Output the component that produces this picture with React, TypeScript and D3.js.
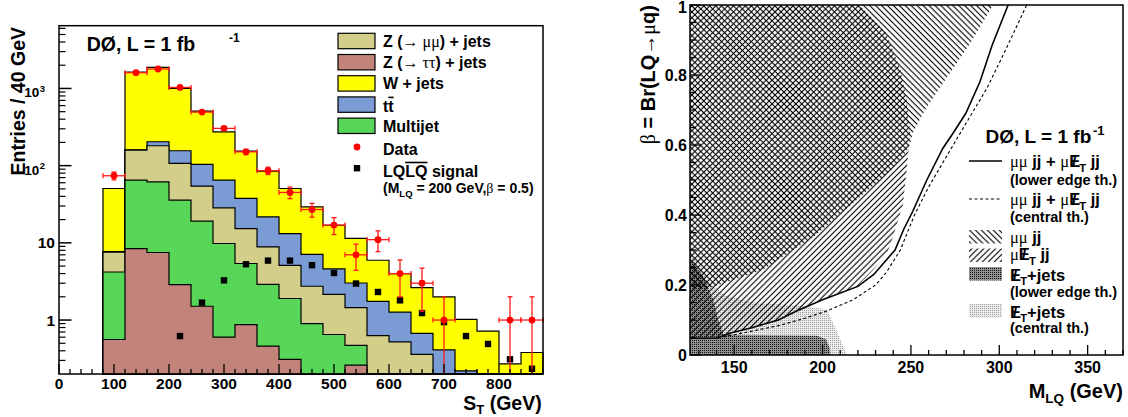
import React from 'react';
import * as d3 from 'd3';

// ---------------- Left panel data (S_T distribution) ----------------
const stEdges = [80, 120, 160, 200, 240, 280, 320, 360, 400, 440, 480, 520, 560, 600, 640, 680, 720, 760, 800, 840, 880];
const zttJets = [0.56, 8.4, 7.5, 2.88, 1.51, 0.6, 0.87, 0.46, 0.31, 0, 0, 0.26, 0, 0, 0, 0, 0, 0, 0, 0];
const multijet = [3.63, 56.5, 54.2, 32.8, 17.6, 9.2, 4.53, 2.44, 1.59, 0.9, 0.65, 0.21, 0, 0, 0, 0, 0, 0, 0, 0];
const zmmJets = [3.41, 94.1, 119.3, 71.3, 35.1, 18.6, 9.9, 5.95, 3.2, 1.84, 1.5, 0.98, 0.63, 0.52, 0.36, 0, 0, 0, 0, 0];
const ttbar = [0.1, 1, 23, 49, 49.8, 36.5, 22.3, 12.85, 8.1, 4.36, 2.45, 1.57, 1.12, 0.75, 0.31, 0.41, 0.22, 0, 0, 0];
const wJets = [42.9, 1472, 1676, 846, 405, 209, 116.4, 63.1, 37.4, 22.1, 12.3, 8.38, 4.2, 2.73, 1.96, 1.58, 0.8, 0.72, 0.27, 0.38];
const dataCounts = [74, 1600, 1786, 1030, 494, 304, 151, 86, 45, 27, 17, 7, 11, 4, 3, 1, null, null, 1, 1];
const dataErrors = [8.6, 40, 42, 32, 22, 17.4, 12.3, 9.3, 7.7, 5.5, 4.2, 2.6, 3.3, 2, 1.7, 1, null, null, 1, 1];
const signalLQ = [null, null, null, 0.62, 1.68, 3.27, 5.28, 5.89, 5.89, 5.13, 4.07, 2.97, 2.31, 1.8, 1.23, 0.94, 0.62, 0.49, 0.31, 0.234];

const xTicksL = [0, 100, 200, 300, 400, 500, 600, 700, 800];
const yTicksL = [
  { v: 1, base: '1', sup: '' },
  { v: 10, base: '10', sup: '' },
  { v: 100, base: '10', sup: '2' },
  { v: 1000, base: '10', sup: '3' },
];

// ---------------- Right panel data (beta vs M_LQ) ----------------
const mumujjRegion: [number, number][] = [
  [125, 1], [296.5, 1], [283.5, 0.89], [268, 0.776], [258, 0.7], [251, 0.634], [249.5, 0.6], [246, 0.571],
  [239, 0.529], [217, 0.433], [195, 0.338], [166, 0.243], [144, 0.205], [135, 0.19], [125, 0.19],
];
const munujjRegion: [number, number][] = [
  [125, 1], [221, 1], [236, 0.92], [243.8, 0.82], [247.6, 0.73], [249.5, 0.634], [248.6, 0.58], [247.6, 0.53],
  [245.5, 0.43], [240, 0.34], [236.5, 0.29], [228.6, 0.243], [219.3, 0.195], [200, 0.158], [185, 0.125],
  [175, 0.1], [160, 0.078], [148, 0.063], [140, 0.052], [125, 0.052],
];
const metJetsLower: [number, number][] = [
  [125, 0], [204.5, 0], [204, 0.02], [202, 0.045], [197, 0.055], [150, 0.057], [143.9, 0.06], [141, 0.1],
  [138.2, 0.157], [132.5, 0.224], [126, 0.267], [125, 0.27],
];
const metJetsCentral: [number, number][] = [
  [125, 0], [213.7, 0], [208, 0.07], [202.4, 0.13], [190, 0.14], [160, 0.15], [145, 0.17], [135, 0.21], [125, 0.3],
];
const combinedLower: [number, number][] = [
  [125, 0.048], [140, 0.048], [148, 0.063], [160, 0.078], [175, 0.1], [185, 0.125], [200, 0.158], [220, 0.196],
  [229, 0.23], [241, 0.3], [246, 0.36], [251, 0.41], [259, 0.5], [268, 0.59], [274, 0.635], [281, 0.69],
  [289, 0.78], [296, 0.886], [305, 1],
];
const combinedCentral: [number, number][] = [
  [125, 0.048], [140, 0.048], [150, 0.058], [162, 0.07], [176, 0.085], [190, 0.105], [202, 0.125], [217, 0.157],
  [230, 0.2], [236, 0.235], [244, 0.3], [252, 0.4], [260, 0.48], [270, 0.566], [280, 0.652], [293, 0.762],
  [304, 0.876], [315.5, 1],
];
const xTicksR = [150, 200, 250, 300, 350];
const yTicksR = [0, 0.2, 0.4, 0.6, 0.8, 1];
const yTickLabelsR = ['0', '0.2', '0.4', '0.6', '0.8', '1'];

const colors = { ztt: '#c2837b', mj: '#57d657', zmm: '#d3cf8b', tt: '#7b9bd4', w: '#ffff00' };

const SANS = "'Liberation Sans', Arial, Helvetica, sans-serif";
const SERIF = "'Liberation Serif', 'DejaVu Serif', 'Times New Roman', serif";

const MET = (f: number) => (
  <>
    <tspan>E</tspan>
    <tspan dx={-0.5 * f}>/</tspan>
    <tspan dx={0.17 * f} dy={0.28 * f} fontSize={0.68 * f}>T</tspan>
  </>
);

export default function App() {
  // left scales
  const xL = d3.scaleLinear().domain([0, 880]).range([59, 543]);
  const yL = d3.scaleLog().domain([0.2, 6500]).range([374, 25.7]);
  const yc = (v: number) => yL(Math.max(v, 0.2));
  const yBot = 374;

  const keys = ['ztt', 'mj', 'zmm', 'tt', 'w'] as const;
  const rows = stEdges.slice(0, -1).map((lo, i) => ({
    lo, hi: stEdges[i + 1],
    ztt: zttJets[i], mj: multijet[i], zmm: zmmJets[i], tt: ttbar[i], w: wJets[i],
  }));
  const series = d3.stack<any>().keys(keys as any)(rows);
  const stepPath = (k: number) => {
    let p = `M${xL(stEdges[0])},${yBot}`;
    rows.forEach((r, i) => {
      const top = series[k][i][1];
      p += `L${xL(r.lo)},${yc(top)}L${xL(r.hi)},${yc(top)}`;
    });
    p += `L${xL(stEdges[stEdges.length - 1])},${yBot}Z`;
    return p;
  };

  const minorLogL: number[] = [];
  [0.1, 1, 10, 100, 1000].forEach((d) => {
    for (let k = 2; k <= 9; k++) {
      const v = d * k;
      if (v > 0.2 && v < 6500) minorLogL.push(v);
    }
  });
  const minorXL = d3.range(0, 881, 20);

  // right scales
  const xR = d3.scaleLinear().domain([125, 370]).range([690, 1123]);
  const yR = d3.scaleLinear().domain([0, 1]).range([355, 5]);
  const poly = (pts: [number, number][]) => pts.map((p) => `${xR(p[0])},${yR(p[1])}`).join(' ');
  const line = d3.line<[number, number]>().x((d) => xR(d[0])).y((d) => yR(d[1]));
  const minorXR = d3.range(130, 371, 10);
  const minorYR = d3.range(0, 1.0001, 0.05);

  const legendRowsY = [41, 62.2, 83.4, 104.6, 125.8, 147, 168.2];
  const legendBoxes = [
    { c: colors.zmm, y: legendRowsY[0] },
    { c: colors.ztt, y: legendRowsY[1] },
    { c: colors.w, y: legendRowsY[2] },
    { c: colors.tt, y: legendRowsY[3] },
    { c: colors.mj, y: legendRowsY[4] },
  ];

  const lf = 16;
  const rf = 16.5;

  return (
    <svg width={1128} height={417} style={{ position: 'absolute', left: 0, top: 0, background: '#fff' }}
      fontFamily={SANS} fontWeight="bold">
      <defs>
        <pattern id="hatchA" patternUnits="userSpaceOnUse" width="4.2" height="4.2" patternTransform="rotate(-45)">
          <rect x="1.5" y="0" width="1.1" height="4.2" fill="#000" />
        </pattern>
        <pattern id="hatchB" patternUnits="userSpaceOnUse" width="4.2" height="4.2" patternTransform="rotate(45)">
          <rect x="1.5" y="0" width="1.1" height="4.2" fill="#000" />
        </pattern>
        <pattern id="darkFill" patternUnits="userSpaceOnUse" width="2" height="2">
          <rect width="2" height="2" fill="#919191" />
          <rect width="1" height="1" fill="#111" />
        </pattern>
        <pattern id="lightFill" patternUnits="userSpaceOnUse" width="2" height="2">
          <rect width="2" height="2" fill="#ebebeb" />
          <rect width="1" height="1" fill="#a0a0a0" />
        </pattern>
        <clipPath id="clipR">
          <rect x={690} y={5} width={433} height={350} />
        </clipPath>
      </defs>

      {/* ================= LEFT PANEL ================= */}
      {[4, 3, 2, 1, 0].map((k) => (
        <path key={k} d={stepPath(k)} fill={(colors as any)[keys[k]]} stroke="#000" strokeWidth={1.2} />
      ))}

      {/* signal */}
      {signalLQ.map((v, i) => v == null ? null : (
        <rect key={'s' + i} x={xL((stEdges[i] + stEdges[i + 1]) / 2) - 3.2} y={yc(v) - 3.2} width={6.4} height={6.4} fill="#000" />
      ))}

      {/* data */}
      {dataCounts.map((v, i) => {
        if (v == null) return null;
        const e = dataErrors[i] as number;
        const cx = xL((stEdges[i] + stEdges[i + 1]) / 2);
        const cy = yc(v);
        const x0 = xL(stEdges[i]);
        const x1 = xL(stEdges[i + 1]);
        const yHi = yc(v + e);
        const yLo = yc(v - e);
        return (
          <g key={'d' + i} stroke="#ff1a1a" strokeWidth={1.3}>
            <line x1={x0} y1={cy} x2={x1} y2={cy} />
            <line x1={cx} y1={yHi} x2={cx} y2={yLo} />
            <line x1={cx - 2.5} y1={yHi} x2={cx + 2.5} y2={yHi} />
            {v - e > 0.2 && <line x1={cx - 2.5} y1={yLo} x2={cx + 2.5} y2={yLo} />}
            <line x1={x0} y1={cy - 2.5} x2={x0} y2={cy + 2.5} />
            <line x1={x1} y1={cy - 2.5} x2={x1} y2={cy + 2.5} />
            <circle cx={cx} cy={cy} r={3.4} fill="#ff0000" stroke="none" />
          </g>
        );
      })}

      {/* frame & axes */}
      <rect x={59} y={25.7} width={484} height={348.3} fill="none" stroke="#000" strokeWidth={1.5} />
      {yTicksL.map((t) => (
        <line key={'ym' + t.v} x1={59} x2={71.5} y1={yL(t.v)} y2={yL(t.v)} stroke="#000" strokeWidth={1.5} />
      ))}
      {minorLogL.map((v) => (
        <line key={'yn' + v} x1={59} x2={65.5} y1={yL(v)} y2={yL(v)} stroke="#000" strokeWidth={1.2} />
      ))}
      {minorXL.map((v) => (
        <line key={'xn' + v} x1={xL(v)} x2={xL(v)} y1={yBot} y2={v % 100 === 0 ? yBot - 10 : yBot - 5} stroke="#000" strokeWidth={1.3} />
      ))}
      {xTicksL.map((v) => (
        <text key={'xl' + v} x={xL(v)} y={389} textAnchor="middle" fontSize={15.5}>{v}</text>
      ))}
      {yTicksL.map((t) => t.sup ? (
        <text key={'yl' + t.v} x={45} y={yL(t.v) + 9} textAnchor="end" fontSize={13.5}>
          {t.base}
          <tspan dx={0.5} dy={-5.5} fontSize={9.5}>{t.sup}</tspan>
        </text>
      ) : (
        <text key={'yl' + t.v} x={55} y={yL(t.v) + 5.5} textAnchor="end" fontSize={15.5}>{t.base}</text>
      ))}
      <text transform="translate(25,27) rotate(-90)" textAnchor="end" fontSize={19.5}>Entries / 40 GeV</text>
      <text x={541.7} y={410} textAnchor="end" fontSize={19.5}>
        S<tspan dy={4} fontSize={13}>T</tspan><tspan dy={-4}> (GeV)</tspan>
      </text>
      <text x={86.7} y={50.7} fontSize={19.5}>DØ, L = 1 fb</text>
      <text x={229} y={42} fontSize={12}>-1</text>

      {/* left legend */}
      {legendBoxes.map((b, i) => (
        <rect key={'lb' + i} x={338} y={b.y - 7.7} width={37} height={15.4} fill={b.c} stroke="#000" strokeWidth={1.2} />
      ))}
      <text x={383} y={legendRowsY[0] + 5.8} fontSize={lf}>
        Z (<tspan fontFamily={SERIF} fontWeight="normal">→ μμ</tspan>) + jets
      </text>
      <text x={383} y={legendRowsY[1] + 5.8} fontSize={lf}>
        Z (<tspan fontFamily={SERIF} fontWeight="normal">→ ττ</tspan>) + jets
      </text>
      <text x={383} y={legendRowsY[2] + 5.8} fontSize={lf}>W + jets</text>
      <text x={383} y={legendRowsY[3] + 7} fontSize={lf}>
        t<tspan style={{ textDecoration: 'overline' }}>t</tspan>
      </text>
      <text x={383} y={legendRowsY[4] + 5.8} fontSize={lf}>Multijet</text>
      <circle cx={357} cy={legendRowsY[5]} r={3.4} fill="#ff0000" />
      <text x={383} y={legendRowsY[5] + 8} fontSize={lf}>Data</text>
      <rect x={353.8} y={legendRowsY[6] - 3.2} width={6.4} height={6.4} fill="#000" />
      <text x={383} y={legendRowsY[6] + 8.5} fontSize={lf}>
        LQ<tspan style={{ textDecoration: 'overline' }}>LQ</tspan> signal
      </text>
      <text x={383} y={193} fontSize={14}>
        (M<tspan dy={3.5} fontSize={9.5}>LQ</tspan><tspan dy={-3.5}> = 200 GeV,</tspan>
        <tspan fontFamily={SERIF} fontWeight="normal">β</tspan> = 0.5)
      </text>

      {/* ================= RIGHT PANEL ================= */}
      <g clipPath="url(#clipR)">
        <polygon points={poly(metJetsCentral)} fill="url(#lightFill)" />
        <polygon points={poly(metJetsLower)} fill="url(#darkFill)" />
        <polygon points={poly(mumujjRegion)} fill="url(#hatchA)" />
        <polygon points={poly(munujjRegion)} fill="url(#hatchB)" />
        <path d={line(combinedCentral) || ''} fill="none" stroke="#000" strokeWidth={1.1} strokeDasharray="3,2.5" />
        <path d={line(combinedLower) || ''} fill="none" stroke="#000" strokeWidth={1.6} />
      </g>
      <rect x={690} y={5} width={433} height={350} fill="none" stroke="#000" strokeWidth={1.5} />
      {minorXR.map((v) => (
        <line key={'rxn' + v} x1={xR(v)} x2={xR(v)} y1={355} y2={v % 50 === 0 ? 345 : 350} stroke="#000" strokeWidth={1.3} />
      ))}
      {minorYR.map((v, i) => (
        <line key={'ryn' + i} x1={690} x2={i % 4 === 0 ? 701 : 696} y1={yR(v)} y2={yR(v)} stroke="#000" strokeWidth={1.3} />
      ))}
      {xTicksR.map((v) => (
        <text key={'rxl' + v} x={xR(v)} y={373.3} textAnchor="middle" fontSize={16}>{v}</text>
      ))}
      {yTicksR.map((v, i) => (
        <text key={'ryl' + v} x={687} y={Math.max(yR(v) + 6.3, 13)} textAnchor="end" fontSize={16}>{yTickLabelsR[i]}</text>
      ))}
      <text transform="translate(655,5) rotate(-90)" textAnchor="end" fontSize={20}>
        <tspan fontFamily={SERIF} fontWeight="normal">β</tspan> = Br(LQ<tspan fontFamily={SERIF} fontWeight="normal">→μ</tspan>q)
      </text>
      <text x={1123} y={398} textAnchor="end" fontSize={20}>
        M<tspan dy={4.5} fontSize={13.5}>LQ</tspan><tspan dy={-4.5}> (GeV)</tspan>
      </text>

      {/* right legend */}
      <text x={985.5} y={142.7} fontSize={19}>DØ, L = 1 fb</text>
      <text x={1093} y={134.5} fontSize={13}>-1</text>

      <line x1={969} x2={1002} y1={161} y2={161} stroke="#000" strokeWidth={1.6} />
      <text x={1010} y={167} fontSize={rf}>
        <tspan fontFamily={SERIF} fontWeight="normal">μμ</tspan> jj + <tspan fontFamily={SERIF} fontWeight="normal">μ</tspan>
        {MET(rf)}<tspan dy={-0.28 * rf}> jj</tspan>
      </text>
      <text x={1010} y={185} fontSize={14.5}>(lower edge th.)</text>

      <line x1={969} x2={1002} y1={199} y2={199} stroke="#000" strokeWidth={1.1} strokeDasharray="3,2.5" />
      <text x={1010} y={205} fontSize={rf}>
        <tspan fontFamily={SERIF} fontWeight="normal">μμ</tspan> jj + <tspan fontFamily={SERIF} fontWeight="normal">μ</tspan>
        {MET(rf)}<tspan dy={-0.28 * rf}> jj</tspan>
      </text>
      <text x={1010} y={222} fontSize={14.5}>(central th.)</text>

      <rect x={969} y={230} width={33} height={13.5} fill="url(#hatchA)" />
      <text x={1010} y={243} fontSize={rf}>
        <tspan fontFamily={SERIF} fontWeight="normal">μμ</tspan> jj
      </text>
      <rect x={969} y={248.5} width={33} height={13.5} fill="url(#hatchB)" />
      <text x={1010} y={260} fontSize={rf}>
        <tspan fontFamily={SERIF} fontWeight="normal">μ</tspan>{MET(rf)}<tspan dy={-0.28 * rf}> jj</tspan>
      </text>
      <rect x={969} y={267} width={33} height={13.5} fill="url(#darkFill)" />
      <text x={1010} y={280.5} fontSize={rf}>
        {MET(rf)}<tspan dy={-0.28 * rf}>+jets</tspan>
      </text>
      <text x={1010} y={296.5} fontSize={14.5}>(lower edge th.)</text>
      <rect x={969} y={304} width={33} height={13.5} fill="url(#lightFill)" />
      <text x={1010} y={317.5} fontSize={rf}>
        {MET(rf)}<tspan dy={-0.28 * rf}>+jets</tspan>
      </text>
      <text x={1010} y={333} fontSize={14.5}>(central th.)</text>
    </svg>
  );
}
